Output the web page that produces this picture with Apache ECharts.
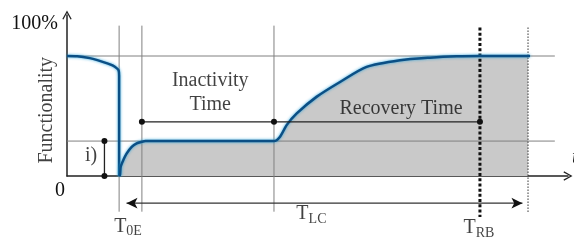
<!DOCTYPE html>
<html>
<head>
<meta charset="utf-8">
<script src="https://cdn.jsdelivr.net/npm/echarts@6/dist/echarts.min.js"></script>
<style>html,body{margin:0;padding:0;background:#fff}#main{width:574px;height:241px}</style>
</head>
<body>
<div id="main"></div>
<script>
// functionality curve: time (arbitrary units) vs functionality (%)
var dropTime = [0, 2, 4.5, 6, 7.8, 9, 9.8, 10.2, 10.3, 10.3];
var dropLevel = [79, 78.8, 77.6, 76.3, 74.3, 72.8, 71, 69.5, 66, 0];
var recoveryTime = [10.3, 10.47, 10.61, 11.13, 11.8, 12.79, 13.77, 14.76, 15.5, 39.8, 40.9, 42.1, 43.4, 45.4, 49.3, 53.95, 59.2, 65.8, 71.7, 77, 81.6, 91.5];
var recoveryLevel = [0, 0.7, 6.1, 10.5, 14.9, 19.2, 21.5, 22.5, 23, 23, 23, 25.9, 33.5, 41.2, 52.1, 61.9, 71.8, 76.2, 77.9, 78.8, 79, 79];
var baseLevel = 79, residualLevel = 23;
var guideTimes = [10.3, 14.8, 40.9];   // T0E, start of inactivity, T_LC
var recoveredTime = 81.6;              // T_RB
var endTime = 91.1;
var yTickValues = [0, 100];
var yTickLabels = ['{z|0}', '{p|100%}'];

// text notes: [text, time, level, rotation]
var notes = [
    ['Functionality', -3.95, 43.3, 90],
    ['Inactivity\nTime', 28.3, 54.6, 0],
    ['Recovery Time', 66, 44, 0],
    ['i)', 4.74, 13.1, 0],
    ['{t|T}{s|0E}', 12.06, -34.1, 0],
    ['{t|T}{s|LC}', 48.3, -25.6, 0],
    ['{t|T}{s|RB}', 81.4, -34.8, 0]
];

var zip = function (xs, ys) { return xs.map(function (x, i) { return [x, ys[i]]; }); };
var dropCurve = zip(dropTime, dropLevel);
var recoveryCurve = zip(recoveryTime, recoveryLevel);
var fill = recoveryCurve.filter(function (p) { return p[0] <= endTime; });
fill.push([endTime, baseLevel]);

var font = 'Liberation Serif';
var chevron = 'path://M5,0 L10,9 L8.8,9.6 L5,2.6 L1.2,9.6 L0,9 Z';
var curveStyle = { color: '#0b4f85', width: 2.5, shadowColor: 'rgba(30,160,220,0.9)', shadowBlur: 3 };

function guide(data, style) {
    return {
        type: 'line', data: data, showSymbol: false, silent: true, z: 2, clip: false,
        lineStyle: Object.assign({ color: '#808080', width: 1 }, style || {})
    };
}

var series = [
    {
        type: 'line', data: fill, showSymbol: false, silent: true, z: 1, smooth: 0.25,
        lineStyle: { width: 0 }, areaStyle: { color: '#c9c9c9', opacity: 1 }
    },
    guide([[0, baseLevel], [96.4, baseLevel]]),
    guide([[0, residualLevel], [96.4, residualLevel]])
];
guideTimes.forEach(function (t) {
    series.push(guide([[t, 99], [t, -23.5]]));
});
series.push(guide([[endTime, 97.8], [endTime, -24.5]], { type: [1.5, 1.5], color: '#333' }));
series.push(guide([[recoveredTime, 97.8], [recoveredTime, -27]], { type: [3, 2.2], width: 3, color: '#111' }));

// T_LC span arrow
series.push({
    type: 'line', data: [[11.76, -17.9], [90.0, -17.9]], silent: true, z: 2, clip: false,
    symbol: 'arrow', symbolSize: [8, 11], symbolRotate: function (v, p) { return p.dataIndex === 0 ? 90 : -90; },
    itemStyle: { color: '#111' }, lineStyle: { color: '#333', width: 1.2 }
});

series.push({
    type: 'line', data: dropCurve, showSymbol: false, silent: true, z: 3,
    smooth: 0.25, lineStyle: curveStyle
});
series.push({
    type: 'line', data: recoveryCurve, showSymbol: false, silent: true, z: 3,
    smooth: 0.25, lineStyle: curveStyle
});
series.push({
    type: 'line', data: [[guideTimes[1], 35.7], [guideTimes[2], 35.7], [recoveredTime, 35.7]],
    symbol: 'circle', symbolSize: 6, showAllSymbol: true, silent: true, z: 4,
    itemStyle: { color: '#111' }, lineStyle: { color: '#222', width: 1.3 }
});
series.push({
    type: 'line', data: [[7.4, 0], [7.4, residualLevel]],
    symbol: 'circle', symbolSize: 6, silent: true, z: 4, clip: false,
    itemStyle: { color: '#111' }, lineStyle: { color: '#222', width: 1.3 }
});
series.push({
    type: 'scatter', symbolSize: 0, silent: true, z: 5, clip: false,
    data: notes.map(function (n) {
        return { name: n[0], value: [n[1], n[2]], label: { rotate: n[3] } };
    }),
    label: {
        show: true, position: 'inside', formatter: '{b}',
        fontFamily: font, fontSize: 20, color: '#111', lineHeight: 24, align: 'center',
        rich: {
            t: { fontFamily: font, fontSize: 20, color: '#111', lineHeight: 22, verticalAlign: 'top' },
            s: { fontFamily: font, fontSize: 14, color: '#111', lineHeight: 14, padding: [12, 0, 0, 0], verticalAlign: 'bottom' }
        }
    }
});

var option = {
    animation: false,
    grid: { left: 67, right: 6, top: 15, bottom: 65, containLabel: false, outerBoundsMode: 'none' },
    xAxis: {
        type: 'value', min: 0, max: 99,
        axisLine: { lineStyle: { color: '#222', width: 1.5 }, symbol: ['none', chevron], symbolSize: [10, 9] },
        axisTick: { show: false }, axisLabel: { show: false }, splitLine: { show: false },
        name: 't', nameLocation: 'end', nameGap: 4,
        nameTextStyle: { fontFamily: font, fontStyle: 'italic', fontSize: 20, color: '#222', align: 'left', verticalAlign: 'bottom', padding: [0, 0, 8, 0] }
    },
    yAxis: {
        type: 'value', min: 0, max: 106,
        axisLine: { lineStyle: { color: '#222', width: 1.5 }, symbol: ['none', chevron], symbolSize: [10, 9] },
        axisTick: { show: false }, splitLine: { show: false },
        axisLabel: {
            customValues: yTickValues, margin: 2,
            formatter: function (v) { return yTickLabels[yTickValues.indexOf(v)]; },
            rich: {
                z: { fontFamily: font, fontSize: 20, color: '#111', padding: [29, 0, 0, 0] },
                p: { fontFamily: font, fontSize: 20, color: '#111', padding: [0, 7, 0, 0] }
            }
        }
    },
    series: series
};
var myChart = echarts.init(document.getElementById('main'));
myChart.setOption(option);
</script>
</body>
</html>
